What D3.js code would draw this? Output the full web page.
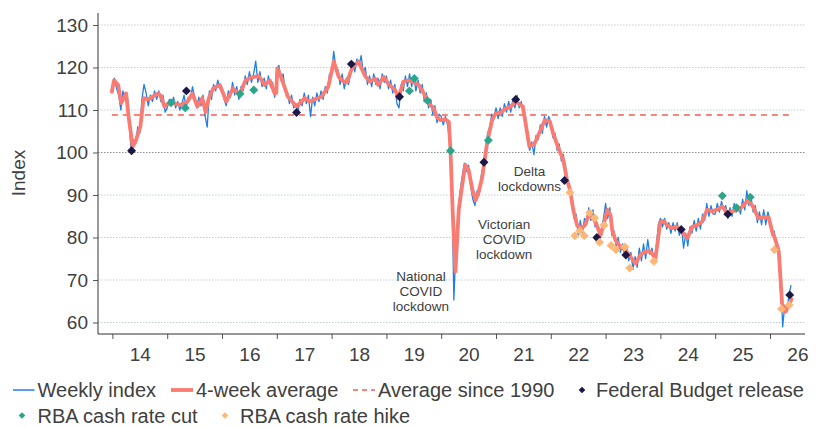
<!DOCTYPE html>
<html lang="en">
<head>
    <meta charset="UTF-8">
    <title>Weekly index</title>
    <script src="https://cdn.jsdelivr.net/npm/d3@7"></script>
    <style>
        body { margin: 0; background: #fff; }
        svg { font-family: "Liberation Sans", Arial, sans-serif; }
        .tick text, .lbl { fill: #404040; }
    </style>
</head>
<body>
    <svg id="chart" width="817" height="427"></svg>
    <script>
        // ---- data ----
        // weekly index, sampled every two weeks from Jan 2014
        const weeklyStart = 2014;
        const weeklyStep = 1 / 26;
        const weeklyValues = [
            114, 117.5, 115, 113.5, 110, 114.5, 112.5, 114, 106.5, 99.8, 103, 102, 106, 104.5, 112.5, 116, 114, 111, 113.5, 112, 114.5, 112.5, 114.5, 112, 113.5, 109.5,
            110.5, 112.5, 111, 113, 110.5, 112, 110, 111.5, 113.5, 110.5, 113, 112.5, 115.5, 113, 110.5, 113, 111, 113.5, 108.5, 106, 114.5, 112.5, 116, 114.5, 117, 115,
            115, 112.5, 111, 114.5, 113, 116.5, 113.5, 115.5, 112.5, 115.5, 114.5, 118, 116, 119, 116.5, 118.5, 121.5, 116.5, 119, 115.5, 117.5, 115, 118, 115.5, 116.5, 113,
            119.5, 120.5, 117, 118.5, 114.5, 114, 111.5, 113.5, 110.5, 111.5, 109.5, 112.5, 111, 114, 111.5, 113.5, 108.5, 113, 111, 114, 112, 114.5, 112.5, 115.5, 114, 118.5,
            118.5, 123.8, 120, 119.5, 116, 118.5, 115, 117.5, 116, 118.5, 121, 119, 122, 120.5, 122.8, 119, 120, 116, 118, 115.5, 118.5, 116, 117.5, 115, 118.5, 116.5,
            118, 115, 117, 114, 116, 111.5, 110.5, 116, 114.5, 118, 115.5, 118.5, 115.5, 118, 114.5, 117, 114, 116, 112, 114, 110.5, 112.5, 109, 111, 107, 109,
            108.5, 106.5, 108.5, 106.5, 103, 95, 65.3, 78, 86, 91, 94.5, 97.5, 95.5, 97, 92, 89, 87.5, 91, 90, 94.5, 97, 100, 104.5, 106, 109, 108,
            110.5, 108, 110.5, 108.5, 111.5, 109.5, 112, 109.5, 112.5, 110.5, 113.5, 110.5, 112, 109, 108.5, 102.5, 100.5, 102.5, 99.5, 104, 103, 106.5, 104.5, 108.5, 106, 108.5,
            107, 103.5, 104.5, 100.5, 102, 98, 99.5, 94, 93.5, 90.5, 89, 84.5, 85.5, 80.5, 84, 81, 84.5, 83, 87, 84, 86.5, 82.5, 83.5, 80, 82, 84.5,
            88, 84.5, 87, 80.5, 81.5, 78, 80, 76.5, 78.5, 76, 78, 74.5, 76.5, 72.5, 75.5, 73, 77.5, 74.5, 78.5, 75, 79.5, 76, 77.5, 74.5, 77.5, 83,
            84.5, 82.5, 84.5, 82, 83.5, 81, 83.5, 81.5, 83.5, 80.5, 82.5, 77.5, 81, 78, 82.5, 81, 84, 81.5, 84.5, 82, 85.5, 84, 88, 85, 87.5, 85.5,
            85.5, 88, 86, 88.5, 86.5, 87.5, 84.5, 87, 85, 88, 86, 87.5, 85.5, 89, 86.5, 91, 87.5, 89.5, 86, 87.5, 83.5, 86, 83, 86.5, 83, 86,
            84, 80.5, 81.5, 77.5, 76.5, 72, 59, 64, 62.5, 66.5, 68.8
        ];

        // 4-week average: [decimal year, index]
        const avgPoints = [
            [2013.99, 114.3], [2014.03, 117.0], [2014.105, 115.9], [2014.16, 111.6], [2014.25, 113.9], [2014.30, 108.0], [2014.37, 101.4], [2014.42, 102.5], [2014.51, 106.1], [2014.57, 112.8], [2014.65, 112.5], [2014.74, 113.2], [2014.84, 113.9], [2014.89, 113.2], [2014.95, 110.8],
            [2015.07, 112.0], [2015.16, 111.4], [2015.25, 111.2], [2015.37, 112.0], [2015.46, 113.9], [2015.55, 110.8], [2015.64, 112.8], [2015.70, 109.6], [2015.76, 112.8], [2015.84, 115.1], [2015.96, 115.9],
            [2016.08, 112.0], [2016.20, 115.1], [2016.32, 113.6], [2016.43, 117.0], [2016.55, 117.7], [2016.67, 118.0], [2016.78, 115.9], [2016.87, 117.0], [2016.96, 113.9], [2016.99, 114.0],
            [2017.01, 119.8], [2017.08, 117.7], [2017.20, 113.2], [2017.36, 110.8], [2017.51, 112.8], [2017.59, 112.0], [2017.70, 112.5], [2017.82, 113.2], [2017.94, 115.5],
            [2018.04, 121.4], [2018.13, 117.8], [2018.22, 116.7], [2018.28, 116.5], [2018.37, 119.8], [2018.49, 121.4], [2018.61, 118.0], [2018.70, 116.7], [2018.79, 117.4], [2018.85, 115.9], [2018.95, 117.8],
            [2019.04, 116.1], [2019.16, 114.7], [2019.22, 112.8], [2019.31, 116.7], [2019.40, 117.0], [2019.50, 116.5], [2019.59, 115.9], [2019.68, 114.0], [2019.77, 111.6], [2019.86, 110.4], [2019.92, 108.4], [2019.985, 107.6],
            [2020.08, 107.8], [2020.14, 107.2], [2020.17, 100.4], [2020.21, 86.0], [2020.26, 72.0], [2020.32, 86.5], [2020.38, 92.0], [2020.44, 97.1], [2020.50, 95.9], [2020.57, 91.2], [2020.63, 88.8], [2020.69, 91.0], [2020.75, 94.3], [2020.84, 102.5], [2020.93, 107.6], [2020.995, 109.2],
            [2021.09, 109.4], [2021.18, 110.4], [2021.27, 110.8], [2021.36, 112.0], [2021.49, 110.8], [2021.55, 106.1], [2021.61, 101.4], [2021.70, 102.0], [2021.80, 104.9], [2021.89, 107.6], [2021.98, 107.4],
            [2022.04, 104.6], [2022.14, 101.0], [2022.23, 98.2], [2022.29, 93.9], [2022.35, 91.2], [2022.41, 86.5], [2022.48, 82.9], [2022.57, 82.2], [2022.63, 83.0], [2022.69, 85.3], [2022.78, 84.5], [2022.85, 82.5], [2022.91, 80.6], [2022.97, 83.3],
            [2023.03, 86.5], [2023.09, 85.3], [2023.12, 81.8], [2023.18, 79.4], [2023.27, 77.8], [2023.36, 77.1], [2023.45, 75.5], [2023.55, 73.9], [2023.64, 76.0], [2023.73, 76.7], [2023.82, 76.7], [2023.91, 75.1],
            [2024.00, 83.7], [2024.06, 83.9], [2024.12, 82.9], [2024.21, 82.2], [2024.30, 82.6], [2024.39, 81.4], [2024.49, 79.8], [2024.58, 82.5], [2024.67, 82.9], [2024.76, 83.7], [2024.85, 86.5], [2024.94, 86.2],
            [2025.03, 86.5], [2025.13, 87.3], [2025.22, 85.7], [2025.32, 86.2], [2025.41, 86.5], [2025.50, 87.3], [2025.60, 88.8], [2025.69, 87.3], [2025.79, 84.5], [2025.88, 84.8], [2025.975, 84.8],
            [2026.04, 81.4], [2026.10, 79.4], [2026.16, 76.7], [2026.22, 64.5], [2026.28, 62.5], [2026.35, 64.1], [2026.39, 65.5]
        ];

        const averageSince1990 = 108.8;

        const budgetDates = [2014.35, 2015.35, 2017.36, 2018.36, 2019.24, 2020.78, 2021.36, 2022.25, 2022.84, 2023.37, 2024.38, 2025.23, 2026.36];
        const budgetValues = [100.4, 114.5, 109.4, 120.8, 113.1, 97.7, 112.5, 93.4, 80.0, 75.9, 81.9, 85.5, 66.5];

        const cutDates = [2015.07, 2015.33, 2016.33, 2016.58, 2019.42, 2019.51, 2019.75, 2020.17, 2020.86, 2025.13, 2025.39, 2025.64];
        const cutValues = [111.7, 110.5, 113.8, 114.7, 114.5, 117.4, 112.2, 100.4, 102.9, 89.8, 87.0, 89.5];

        const hikeDates = [2022.35, 2022.44, 2022.53, 2022.61, 2022.71, 2022.80, 2022.89, 2022.97, 2023.10, 2023.19, 2023.35, 2023.44, 2023.88, 2026.08, 2026.21, 2026.35];
        const hikeValues = [90.6, 80.4, 81.6, 80.4, 85.8, 84.6, 78.9, 82.9, 78.1, 77.1, 77.8, 72.8, 74.4, 77.1, 63.2, 64.1];

        const yearTicks = d3.range(2014, 2027);
        const yTicks = [60, 70, 80, 90, 100, 110, 120, 130];

        const annotations = [
            { lines: ['National', 'COVID', 'lockdown'], year: 2019.63, value: 70.8 },
            { lines: ['Victorian', 'COVID', 'lockdown'], year: 2021.15, value: 83.2 },
            { lines: ['Delta', 'lockdowns'], year: 2021.61, value: 95.6 }
        ];

        const colors = {
            weekly: '#1f7fe6',
            avg: '#f97b71',
            longAvg: '#f8857d',
            budget: '#1b1846',
            cut: '#2ba68b',
            hike: '#fdb777'
        };

        // ---- layout ----
        const plot = { left: 98, right: 805, top: 13, bottom: 334 };
        const svg = d3.select('#chart');

        const x = d3.scaleLinear().domain([2014, 2026]).range([112.4, 770]);
        const y = d3.scaleLinear().domain([60, 130]).range([322.5, 25]);

        // gridlines
        svg.append('g')
            .selectAll('line')
            .data(yTicks)
            .enter()
            .append('line')
            .attr('x1', plot.left)
            .attr('x2', plot.right)
            .attr('y1', d => y(d))
            .attr('y2', d => y(d))
            .attr('stroke', d => d === 100 ? '#8c8c8c' : '#c3cfd8')
            .attr('stroke-width', 1)
            .attr('stroke-dasharray', '1.5,1.5');

        // average since 1990
        svg.append('line')
            .attr('x1', x(avgPoints[0][0]))
            .attr('x2', x(avgPoints[avgPoints.length - 1][0]))
            .attr('y1', y(averageSince1990))
            .attr('y2', y(averageSince1990))
            .attr('stroke', colors.longAvg)
            .attr('stroke-width', 2)
            .attr('stroke-dasharray', '6,5');

        // weekly index
        const weekly = weeklyValues.map((v, i) => [weeklyStart + i * weeklyStep, v]);
        const line = d3.line().x(d => x(d[0])).y(d => y(d[1]));

        svg.append('path')
            .datum(weekly)
            .attr('d', line)
            .attr('fill', 'none')
            .attr('stroke', colors.weekly)
            .attr('stroke-width', 1.3)
            .attr('stroke-linejoin', 'round');

        // 4-week average
        svg.append('path')
            .datum(avgPoints)
            .attr('d', line)
            .attr('fill', 'none')
            .attr('stroke', colors.avg)
            .attr('stroke-width', 3.8)
            .attr('stroke-linejoin', 'round')
            .attr('stroke-linecap', 'round');

        // event markers
        const diamond = d3.symbol().type(d3.symbolSquare).size(40);
        function drawMarkers(dates, values, color) {
            svg.append('g')
                .selectAll('path')
                .data(dates.map((d, i) => [d, values[i]]))
                .enter()
                .append('path')
                .attr('d', diamond)
                .attr('transform', d => `translate(${x(d[0])},${y(d[1])}) rotate(45)`)
                .attr('fill', color);
        }
        drawMarkers(budgetDates, budgetValues, colors.budget);
        drawMarkers(cutDates, cutValues, colors.cut);
        drawMarkers(hikeDates, hikeValues, colors.hike);

        // annotations
        annotations.forEach(a => {
            const t = svg.append('text')
                .attr('class', 'lbl')
                .attr('text-anchor', 'middle')
                .style('font-size', '13.5px');
            a.lines.forEach((s, i) => {
                t.append('tspan')
                    .attr('x', x(a.year))
                    .attr('y', y(a.value) + i * 15)
                    .attr('dy', '0.35em')
                    .text(s);
            });
        });

        // axes
        const yAxis = svg.append('g')
            .attr('transform', `translate(${plot.left},0)`)
            .call(d3.axisLeft(y).tickValues(yTicks).tickSize(5).tickPadding(5));
        yAxis.select('.domain').remove();
        yAxis.selectAll('.tick line').attr('stroke', '#555');
        yAxis.selectAll('text').style('font-size', '19px');

        const xAxis = svg.append('g')
            .attr('transform', `translate(0,${plot.bottom})`)
            .call(d3.axisBottom(x).tickValues(yearTicks).tickSize(5).tickFormat(''));
        xAxis.select('.domain').remove();
        xAxis.selectAll('.tick line').attr('stroke', '#555');

        const xLabels = svg.append('g')
            .attr('transform', `translate(0,${plot.bottom})`)
            .call(d3.axisBottom(x)
                .tickValues(yearTicks.map(d => d + 0.5))
                .tickSize(0)
                .tickPadding(14)
                .tickFormat(d => String(Math.floor(d)).slice(2)));
        xLabels.select('.domain').remove();
        xLabels.selectAll('text').style('font-size', '19px');

        // axis spines
        svg.append('line')
            .attr('x1', plot.left).attr('x2', plot.left)
            .attr('y1', plot.top).attr('y2', plot.bottom)
            .attr('stroke', '#555').attr('stroke-width', 1.2);
        svg.append('line')
            .attr('x1', plot.left).attr('x2', plot.right)
            .attr('y1', plot.bottom).attr('y2', plot.bottom)
            .attr('stroke', '#333').attr('stroke-width', 1.2);

        // y axis title
        svg.append('text')
            .attr('class', 'lbl')
            .attr('transform', 'translate(18,173) rotate(-90)')
            .attr('text-anchor', 'middle')
            .attr('dy', '0.35em')
            .style('font-size', '19px')
            .text('Index');

        // ---- legend ----
        const legendItems = [
            { label: 'Weekly index', kind: 'line', color: colors.weekly, w: 1.5, x: 13, tx: 37.5, row: 0 },
            { label: '4-week average', kind: 'line', color: colors.avg, w: 3.8, x: 171, tx: 196, row: 0 },
            { label: 'Average since 1990', kind: 'dash', color: colors.longAvg, w: 2, x: 353, tx: 378, row: 0 },
            { label: 'Federal Budget release', kind: 'mark', color: colors.budget, x: 582, tx: 596, row: 0 },
            { label: 'RBA cash rate cut', kind: 'mark', color: colors.cut, x: 22, tx: 37.5, row: 1 },
            { label: 'RBA cash rate hike', kind: 'mark', color: colors.hike, x: 225, tx: 240, row: 1 }
        ];
        const rowY = [390, 415.5];
        const legendMark = d3.symbol().type(d3.symbolSquare).size(22);

        legendItems.forEach(item => {
            const ly = rowY[item.row];
            if (item.kind === 'mark') {
                svg.append('path')
                    .attr('d', legendMark)
                    .attr('transform', `translate(${item.x},${ly}) rotate(45)`)
                    .attr('fill', item.color);
            } else {
                svg.append('line')
                    .attr('x1', item.x).attr('x2', item.tx - 3)
                    .attr('y1', ly).attr('y2', ly)
                    .attr('stroke', item.color)
                    .attr('stroke-width', item.w)
                    .attr('stroke-dasharray', item.kind === 'dash' ? '5,4' : null);
            }
            svg.append('text')
                .attr('class', 'lbl')
                .attr('x', item.tx)
                .attr('y', ly)
                .attr('dy', '0.35em')
                .style('font-size', '20px')
                .text(item.label);
        });
    </script>
</body>
</html>
